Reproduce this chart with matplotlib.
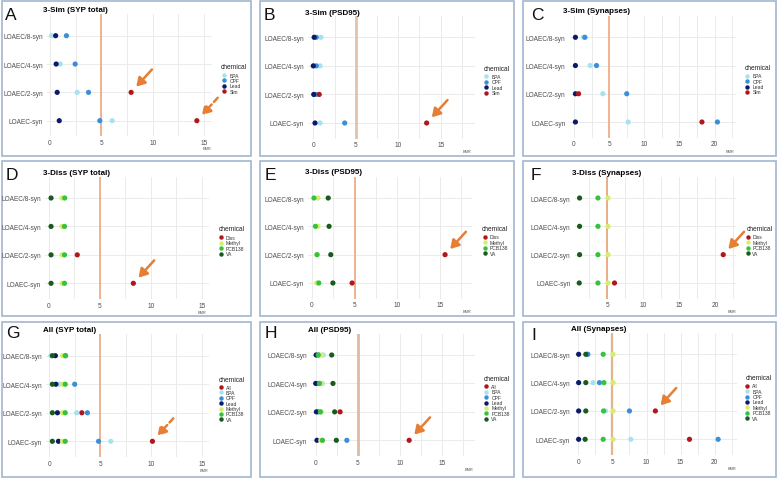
import numpy as np
import matplotlib
matplotlib.use("Agg")
import matplotlib.pyplot as plt
from matplotlib.lines import Line2D
from matplotlib.patches import Rectangle

nan = np.nan

# ---------------- data ----------------
categories = ["LOAEC-syn", "LOAEC/2-syn", "LOAEC/4-syn", "LOAEC/8-syn"]
bmr_threshold = 5

sim_chems = ["BPA", "CPF", "Lead", "Sim"]
diss_chems = ["Diss", "Methyl", "PCB138", "VA"]
all_chems = ["All", "BPA", "CPF", "Lead", "Methyl", "PCB138", "VA"]

# values ordered as categories (LOAEC-syn, /2, /4, /8)
sim_syp = {"BPA": [6.05, 2.65, 1.0, 0.15], "CPF": [4.85, 3.75, 2.45, 1.6],
           "Lead": [0.9, 0.7, 0.6, 0.55], "Sim": [14.3, 7.9, nan, nan]}
sim_psd = {"BPA": [0.8, 0.65, 0.8, 0.9], "CPF": [3.7, 0.3, 0.35, 0.35],
           "Lead": [0.2, 0.05, 0.0, 0.1], "Sim": [13.35, 0.7, nan, nan]}
sim_syn = {"BPA": [7.7, 4.1, 2.3, 1.35], "CPF": [20.4, 7.5, 3.2, 1.55],
           "Lead": [0.2, 0.2, 0.2, 0.2], "Sim": [18.2, 0.65, nan, nan]}

diss_syp = {"Diss": [8.3, 2.8, nan, nan], "Methyl": [1.3, 1.3, 1.3, 1.3],
            "PCB138": [1.55, 1.55, 1.55, 1.57], "VA": [0.23, 0.23, 0.23, 0.23]}
diss_psd = {"Diss": [4.7, 15.6, nan, nan], "Methyl": [0.55, 0.55, 0.7, 0.7],
            "PCB138": [0.8, 0.6, 0.4, 0.23], "VA": [2.45, 2.2, 2.0, 1.9]}
diss_syn = {"Diss": [6.0, 21.1, nan, nan], "Methyl": [5.1, 5.1, 5.1, 5.1],
            "PCB138": [3.7, 3.7, 3.7, 3.7], "VA": [1.1, 1.15, 1.15, 1.15]}

all_syp = {"All": [10.15, 3.2, nan, nan], "BPA": [6.05, 2.7, 1.0, 0.15],
           "CPF": [4.85, 3.75, 2.5, 1.6], "Lead": [0.9, 0.8, 0.65, 0.6],
           "Methyl": [1.3, 1.3, 1.3, 1.3], "PCB138": [1.57, 1.57, 1.57, 1.57],
           "VA": [0.3, 0.3, 0.3, 0.3]}
all_psd = {"All": [11.1, 2.9, nan, nan], "BPA": [0.8, 0.65, 0.8, 0.9],
           "CPF": [3.7, 0.3, 0.35, 0.35], "Lead": [0.15, 0.08, 0.0, 0.05],
           "Methyl": [0.6, 0.6, 0.7, 0.7], "PCB138": [0.8, 0.55, 0.45, 0.3],
           "VA": [2.45, 2.25, 2.05, 1.9]}
all_syn = {"All": [16.3, 11.3, nan, nan], "BPA": [7.7, 4.0, 2.15, 1.35],
           "CPF": [20.5, 7.5, 3.1, 1.4], "Lead": [0.05, 0.05, 0.05, 0.05],
           "Methyl": [5.1, 5.1, 5.1, 5.1], "PCB138": [3.65, 3.7, 3.75, 3.65],
           "VA": [1.0, 1.1, 1.1, 1.1]}

titles = ["3-Sim (SYP total)", "3-Sim (PSD95)", "3-Sim (Synapses)",
          "3-Diss (SYP total)", "3-Diss (PSD95)", "3-Diss (Synapses)",
          "All (SYP total)", "All (PSD95)", "All (Synapses)"]
letters = ["A", "B", "C", "D", "E", "F", "G", "H", "I"]

colors = {"BPA": "#A6E3EE", "CPF": "#3B8EDA", "Lead": "#0B1A6A",
          "Sim": "#B2161C", "Diss": "#B2161C", "All": "#B2161C",
          "Methyl": "#D5EE6C", "PCB138": "#36C23C", "VA": "#1A5A1E"}

# ---------------- layout (pixels) ----------------
plt.rcParams["font.family"] = ["Liberation Sans", "DejaVu Sans"]
W, H = 778, 481
fig = plt.figure(figsize=(W / 100, H / 100), dpi=100)
fig.patch.set_facecolor("white")


def fx(px):
    return px / W


def fy(py):
    return 1 - py / H


ORANGE = "#E57F36"
BORDER = "#A2B5CE"

panels = [
    dict(data=sim_syp, chems=sim_chems, p0=50, k=10.27, xlim=(-0.3, 15.8), ct=36.7, cb=121.7,
         ticks=[0, 5, 10, 15], box=(2, 2, 251, 157), letter=(5, 19.5), title=(43, 11),
         leg=(220.7, 67.3, 224.3, 230, 76), bmr=(207, 149.3), vcol="#EDA173", vlw=1.1),
    dict(data=sim_psd, chems=sim_chems, p0=313.3, k=8.49, xlim=(-0.6, 19.0), ct=38.3, cb=124,
         ticks=[0, 5, 10, 15], box=(260, 2, 514, 157), letter=(264, 20), title=(304.7, 13.3),
         leg=(483.3, 69.3, 485.7, 491.3, 77.3), bmr=(467.3, 151.7), vcol="#E0C3AA", vlw=2.0),
    dict(data=sim_syn, chems=sim_chems, p0=574, k=7.03, xlim=(-0.6, 23.1), ct=38.3, cb=123,
         ticks=[0, 5, 10, 15, 20], box=(523, 2, 776, 157), letter=(530.7, 20), title=(563, 11.7),
         leg=(744.7, 69, 747.3, 752.3, 76.7), bmr=(730.3, 151.7), vcol="#EDA173", vlw=1.1),
    dict(data=diss_syp, chems=diss_chems, p0=48.7, k=10.2, xlim=(-0.35, 15.7), ct=199, cb=284.3,
         ticks=[0, 5, 10, 15], box=(2, 162, 251, 317), letter=(6, 179.5), title=(43, 173.3),
         leg=(218.7, 230, 221, 226, 238.3), bmr=(201.7, 312.7), vcol="#EDA173", vlw=1.1),
    dict(data=diss_psd, chems=diss_chems, p0=312, k=8.53, xlim=(-0.45, 18.7), ct=199, cb=284,
         ticks=[0, 5, 10, 15], box=(260, 162, 514, 317), letter=(265, 179.5), title=(304.7, 172.7),
         leg=(482, 230, 484.7, 490, 238), bmr=(467.3, 312.3), vcol="#EDA173", vlw=1.1),
    dict(data=diss_syn, chems=diss_chems, p0=571.3, k=7.2, xlim=(0.47, 22.9), ct=199, cb=284,
         ticks=[5, 10, 15, 20], box=(523, 162, 776, 317), letter=(530.7, 179.5), title=(572, 173.3),
         leg=(746.3, 229.3, 748, 752.3, 238), bmr=(731.7, 312.3), vcol="#E6A97E", vlw=1.3),
    dict(data=all_syp, chems=all_chems, p0=49.3, k=10.16, xlim=(-0.33, 15.75), ct=356.7, cb=442.3,
         ticks=[0, 5, 10, 15], box=(2, 323, 251, 478), letter=(6, 338.5), title=(43, 331),
         leg=(218.7, 380.3, 221, 226, 388), bmr=(204.3, 470.7), vcol="#EBB08C", vlw=1.3),
    dict(data=all_psd, chems=all_chems, p0=315.7, k=8.42, xlim=(-0.52, 18.9), ct=356, cb=441.3,
         ticks=[0, 5, 10, 15], box=(260, 323, 514, 478), letter=(265, 338.5), title=(308, 330),
         leg=(483.3, 379.3, 485.7, 491.3, 387.3), bmr=(469, 469.7), vcol="#DDBBA2", vlw=2.0),
    dict(data=all_syn, chems=all_chems, p0=578.3, k=6.82, xlim=(-0.63, 23.2), ct=355.3, cb=440.3,
         ticks=[0, 5, 10, 15, 20], box=(523, 323, 776, 478), letter=(531.3, 340.5), title=(570.7, 329.3),
         leg=(745.3, 379, 747.3, 752.3, 386.7), bmr=(731.7, 469), vcol="#E3B48E", vlw=1.6),
]

# arrows: (panel index, chemical, category index, dashed)
arrows = [(0, "Sim", 1, False), (0, "Sim", 0, True), (1, "Sim", 0, False),
          (3, "Diss", 0, False), (4, "Diss", 1, False), (5, "Diss", 1, False),
          (6, "All", 0, True), (7, "All", 0, False), (8, "All", 1, False)]

ypos = np.arange(1, len(categories) + 1)
axes = []
for i, p in enumerate(panels):
    x0, y0, x1, y1 = p["box"]
    fig.add_artist(Rectangle((fx(x0), fy(y1)), (x1 - x0) / W, (y1 - y0) / H,
                             transform=fig.transFigure, fill=False,
                             edgecolor=BORDER, lw=1.2, zorder=0))
    left = p["p0"] + p["xlim"][0] * p["k"]
    right = p["p0"] + p["xlim"][1] * p["k"]
    s = (p["cb"] - p["ct"]) / 3
    top = p["ct"] - 0.75 * s
    bottom = p["cb"] + 0.55 * s
    ax = fig.add_axes([fx(left), fy(bottom), (right - left) / W, (bottom - top) / H])
    axes.append(ax)
    ax.set_xlim(*p["xlim"])
    ax.set_ylim(0.45, 4.75)
    ax.set_xticks(p["ticks"])
    minor = np.arange(0, 25, 2.5)
    minor = minor[(minor > p["xlim"][0]) & (minor < p["xlim"][1])]
    ax.set_xticks(minor, minor=True)
    ax.set_yticks(ypos)
    ax.set_yticklabels(categories)
    ax.grid(True, which="both", axis="x", color="#EBEBEB", lw=0.7)
    ax.grid(True, which="major", axis="y", color="#EBEBEB", lw=0.7)
    ax.set_axisbelow(True)
    for sp in ax.spines.values():
        sp.set_visible(False)
    ax.tick_params(which="both", length=0, labelsize=4.7, colors="#4D4D4D")
    ax.tick_params(axis="x", pad=2.0)
    ax.tick_params(axis="y", pad=3.0)
    ax.axvline(bmr_threshold, color=p["vcol"], lw=p["vlw"], zorder=1.5)
    for chem in p["chems"]:
        ax.scatter(p["data"][chem], ypos, s=14, color=colors[chem],
                   edgecolors="none", zorder=3)
    # title, letter, BMR label
    fig.text(fx(p["title"][0]), fy(p["title"][1]), titles[i], fontsize=5.8,
             fontweight="bold", ha="left", va="center")
    fig.text(fx(p["letter"][0]), fy(p["letter"][1]), letters[i], fontsize=12.5,
             ha="left", va="baseline", color="#111111")
    fig.text(fx(p["bmr"][0]), fy(p["bmr"][1]), "BMR", fontsize=2.8,
             ha="center", va="center", color="#555555")
    # legend
    tx, ty, mx, lx, ly0 = p["leg"]
    fig.text(fx(tx), fy(ty), "chemical", fontsize=4.8, ha="left", va="center",
             color="#222222")
    for j, chem in enumerate(p["chems"]):
        yy = ly0 + j * 5.4
        fig.add_artist(Line2D([fx(mx)], [fy(yy)], marker="o", ms=3.2,
                              color=colors[chem], markeredgewidth=0,
                              linestyle="none", transform=fig.transFigure))
        fig.text(fx(lx), fy(yy), chem, fontsize=3.6, ha="left", va="center",
                 color="#333333")

for (pi, chem, ci, dashed) in arrows:
    ax = axes[pi]
    xv = panels[pi]["data"][chem][ci]
    ax.annotate("", xy=(xv, ypos[ci]), xytext=(15, 16.5), textcoords="offset points",
                arrowprops=dict(arrowstyle="-|>,head_length=0.5,head_width=0.3",
                                color=ORANGE, lw=1.8, shrinkA=0, shrinkB=5.5,
                                linestyle=(0, (2.2, 1.4)) if dashed else "-"),
                annotation_clip=False, zorder=4)

fig.savefig("out.png", dpi=100, facecolor="white")
